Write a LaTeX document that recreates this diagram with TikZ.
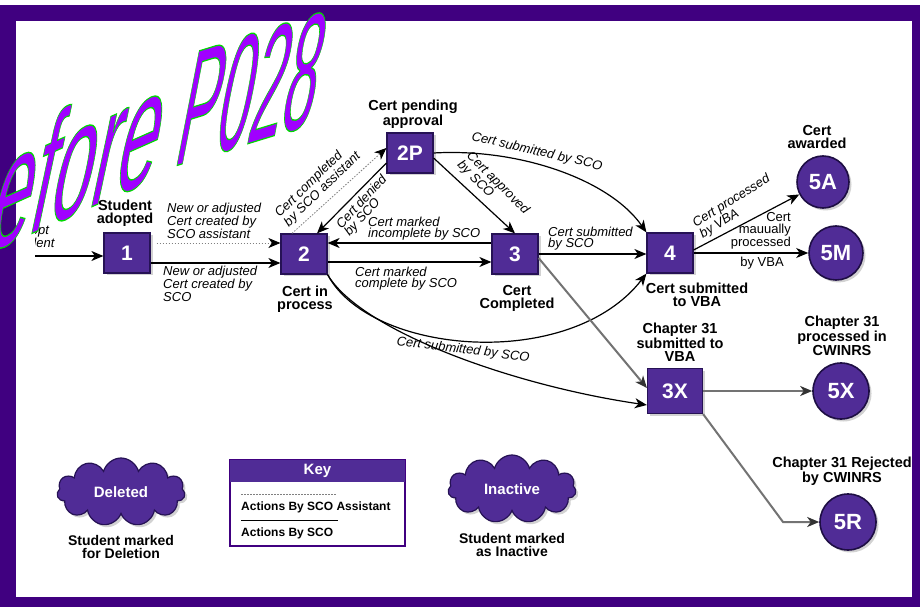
\documentclass[tikz,border=0pt]{standalone}
\usepackage{fontspec}
\setmainfont{Liberation Sans}
\usetikzlibrary{arrows.meta,shapes.symbols,shadows,calc}
\definecolor{frame}{RGB}{64,0,128}
\definecolor{box}{RGB}{80,44,150}
\definecolor{boxdark}{RGB}{38,18,85}
\definecolor{wmark}{RGB}{160,0,255}
\definecolor{lgray}{RGB}{115,115,115}
\begin{document}
\begin{tikzpicture}[x=1pt,y=-1pt,
  state/.style={draw=boxdark, line width=1.2pt, fill=box, minimum width=46pt, minimum height=40pt,
    inner sep=0pt, text=white, font=\fontsize{21}{21}\selectfont\bfseries,
    drop shadow={shadow xshift=2.5pt, shadow yshift=-2.5pt, opacity=.35}},
  final/.style={circle, draw=boxdark!80!black, line width=1.6pt, fill=box, inner sep=0pt, text=white,
    font=\fontsize{22}{22}\selectfont\bfseries,
    drop shadow={shadow xshift=2.5pt, shadow yshift=-2.5pt, opacity=.35}},
  cloudy/.style={cloud, cloud puffs=11, aspect=1.8, draw=boxdark, line width=1.2pt, fill=box,
    minimum width=128pt, minimum height=68pt, inner sep=0pt, text=white,
    font=\fontsize{15}{15}\selectfont\bfseries,
    drop shadow={shadow xshift=2.5pt, shadow yshift=-2.5pt, opacity=.35}},
  statecap/.style={font=\fontsize{14.5}{13}\selectfont\bfseries, align=center, inner sep=0pt},
  elab/.style={font=\fontsize{13}{11}\selectfont\itshape, align=left, inner sep=0pt},
  mlab/.style={font=\fontsize{13}{12}\selectfont, inner sep=0pt},
  keytext/.style={font=\fontsize{12}{12}\selectfont\bfseries, inner sep=0pt},
  arr/.style={-{Stealth[length=12pt,width=10pt,inset=3.5pt]}, line width=1.2pt},
  asst/.style={-{Stealth[length=12pt,width=10pt,inset=3.5pt,color=black]}, draw=gray,
    dash pattern=on 1.5pt off 1.5pt, line width=0.8pt},
  grayarr/.style={-{Stealth[length=12pt,width=10pt,inset=3.5pt,color=black!80]}, draw=lgray, line width=2pt},
  wmtext/.style={inner sep=0pt, text=wmark, font=\fontsize{175}{175}\selectfont},
]
\useasboundingbox (0,0) rectangle (920,609);
\fill[white] (0,0) rectangle (920,609);
\fill[frame] (0,5) rectangle (920,607);
\fill[white] (16,21) rectangle (912,597);

% state nodes
\node[state] (n1) at (127,253) {1};
\node[state] (n2) at (304,254) {2};
\node[state] (n2P) at (410,153) {2P};
\node[state] (n3) at (515,254) {3};
\node[state] (n4) at (670,253) {4};
\node[state, minimum width=55pt, minimum height=45pt] (n3X) at (675,391) {3X};
\node[final, minimum size=52pt] (c5A) at (823,182) {5A};
\node[final, minimum size=54pt] (c5M) at (836,253) {5M};
\node[final, minimum size=56pt] (c5X) at (841,391) {5X};
\node[final, minimum size=56pt] (c5R) at (848,522) {5R};

% captions
\node[statecap] (tAdopted) at (125,213) {Student\\adopted};
\node[statecap] (tPending) at (413,114) {Cert pending\\approval};
\node[statecap] (tProcess) at (305,299) {Cert in\\process};
\node[statecap] (tCompleted) at (517,298) {Cert\\Completed};
\node[statecap] (tSubmitted) at (697,295) {Cert submitted\\to VBA};
\node[statecap] (t3X) at (680,342) {Chapter 31\\submitted to\\VBA};
\node[statecap] (tAwarded) at (817,137) {Cert\\awarded};
\node[statecap] (t5X) at (842,336) {Chapter 31\\processed in\\CWINRS};
\node[statecap] (t5R) at (842,471) {Chapter 31 Rejected\\by CWINRS};

% connectors
\coordinate (s0) at (35,256);
\draw[arr] (s0) -- (s0 -| n1.west);
\begin{scope}
  \clip (35,215) rectangle (95,250);
  \node[elab, align=center] (lAdopt) at (32,236) {Adopt\\Student};
\end{scope}

\draw[asst] ([xshift=6pt,yshift=10pt]n1.east) -- ([yshift=10pt]n1.east -| n2.west);
\draw[arr] ([yshift=-10pt]n1.east) -- ([yshift=-10pt]n1.east -| n2.west);
\node[elab, anchor=west] (lNewA) at (167,221) {New or adjusted\\Cert created by\\SCO assistant};
\node[elab, anchor=west] (lNew) at (163,284) {New or adjusted\\Cert created by\\SCO};

\draw[arr] ([yshift=11pt]n3.west) -- ([yshift=11pt]n3.west -| n2.east);
\draw[arr] ([yshift=-8pt]n2.east) -- ([yshift=-8pt]n2.east -| n3.west);
\node[elab, anchor=west] (lInc) at (368,229) {Cert marked\\incomplete by SCO};
\node[elab, anchor=west] (lComp) at (355,279) {Cert marked\\complete by SCO};

\draw[asst] ([xshift=-12pt]n2.north) -- ([yshift=5pt]n2P.west);
\draw[arr] ([yshift=-10pt]n2P.west) -- ([xshift=13pt]n2.north);
\node[elab, rotate=44] (lCC) at (318,185) {Cert completed\\by SCO assistant};
\node[elab, rotate=47] (lCD) at (366,206) {Cert denied\\by SCO};

\draw[arr] ([yshift=-5pt]n2P.east) -- (n3.north);
\node[elab, rotate=-45] (lAP) at (493,188) {Cert approved\\by SCO};

\draw[arr] (n2P.east) .. controls (520,148) and (610,180) .. (n4.north west);
\node[elab, rotate=-13] (lS2P) at (537,152) {Cert submitted by SCO};

\draw[arr] (n3.east) -- (n3.east -| n4.west);
\node[elab, anchor=west] (lSub34) at (548,239) {Cert submitted\\by SCO};

\draw[arr] (n2.south east) .. controls (370,355) and (570,372) .. (n4.south west);
\draw[arr] (n2.south east) .. controls (360,330) and (510,385) .. ([yshift=-14pt]n3X.west);
\node[elab, rotate=-7] (lS3X) at (463,350) {Cert submitted by SCO};

\draw[grayarr] ([yshift=-4pt]n3.east) -- ([yshift=3pt]n3X.west);
\draw[grayarr] (n3X.east) -- (c5X.west);
\coordinate (bend) at (783,522);
\draw[grayarr] (n3X.south east) -- (bend) -- (c5R.west);

\draw[arr] ([yshift=3pt]n4.east) -- (c5A);
\node[elab, rotate=32] (lPV) at (735,207) {Cert processed\\by VBA};
\draw[arr] (n4.east) -- (c5M.west);
\node[mlab, align=right, anchor=east] (lMan) at (791,231) {Cert\\mauually\\processed};
\node[mlab] (lMan2) at (762,263) {by VBA};

% bottom: clouds and key
\node[cloudy] (del) at (121,492) {Deleted};
\node[statecap, font=\fontsize{14}{12.5}\selectfont\bfseries] (tDel) at (121,547) {Student marked\\for Deletion};
\node[cloudy] (ina) at (512,489) {Inactive};
\node[statecap, font=\fontsize{14}{12.5}\selectfont\bfseries] (tIna) at (512,545) {Student marked\\as Inactive};

\draw[frame, line width=1.5pt] (230,460) rectangle (405,546);
\fill[box] (230,460) rectangle (405,482);
\node[font=\fontsize{15}{15}\selectfont\bfseries, text=white, inner sep=0pt] (tKey) at (317.5,471) {Key};
\draw[gray, dash pattern=on 1.5pt off 1.5pt, line width=0.7pt] (241,494) -- (336,494);
\node[keytext, anchor=west] (kA) at (241,507) {Actions By SCO Assistant};
\draw[black, line width=1pt] (241,520) -- (338,520);
\node[keytext, anchor=west] (kS) at (241,533) {Actions By SCO};

% watermark
\begin{scope}
  \clip (0,0) rectangle (920,609);
  \node[wmtext, anchor=base east, cm={0.420,0.187,0.208,0.978,(0,0)}] (wmA) at (152,180)
    {\special{pdf:literal direct 2 Tr 0 0.85 0 RG 1.4 w}efore};
  \node[wmtext, anchor=base west, cm={0.339,0.104,0.185,0.952,(0,0)}] (wmB) at (172,167)
    {\special{pdf:literal direct 2 Tr 0 0.85 0 RG 1.4 w}P028};
\end{scope}
\end{tikzpicture}
\end{document}
